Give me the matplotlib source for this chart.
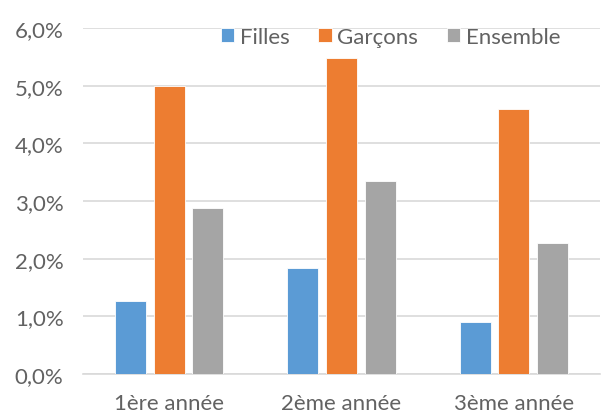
import numpy as np
import matplotlib
matplotlib.use('Agg')
import matplotlib.pyplot as plt
from matplotlib.ticker import FuncFormatter

categories = ['1ère année', '2ème année', '3ème année']
filles = [1.27, 1.84, 0.90]
garcons = [5.0, 5.48, 4.59]
ensemble = [2.88, 3.34, 2.27]
series_names = ['Filles', 'Garçons', 'Ensemble']
colors = ['#5B9BD5', '#ED7D31', '#A5A5A5']

plt.rcParams['font.family'] = ['Lato', 'DejaVu Sans']
text_col = '#626262'

fig = plt.figure(figsize=(6.05, 4.14), dpi=100)
ax = fig.add_axes([83 / 605, (414 - 375) / 414, (600 - 83) / 605, (375 - 29) / 414])

x = np.arange(len(categories))
w = 0.18
step = 0.225
for i, (vals, name, c) in enumerate(zip([filles, garcons, ensemble], series_names, colors)):
    ax.bar(x + (i - 1) * step, vals, w, color=c, label=name,
           edgecolor='white', linewidth=0.6, zorder=3)

ax.set_xlim(-0.5, 2.5)
ax.set_ylim(0, 6)
ax.set_yticks(np.arange(0, 7, 1))
ax.yaxis.set_major_formatter(FuncFormatter(lambda v, p: f'{v:.1f}%'.replace('.', ',')))
ax.set_xticks(x)
ax.set_xticklabels(categories)
ax.grid(axis='y', color='#D9D9D9', linewidth=1.2, zorder=0)
for s in ['top', 'right', 'left']:
    ax.spines[s].set_visible(False)
ax.spines['bottom'].set_color('#D9D9D9')
ax.spines['bottom'].set_linewidth(1.2)
ax.tick_params(axis='both', length=0, labelsize=16, colors=text_col)
ax.tick_params(axis='x', pad=14)
ax.tick_params(axis='y', pad=14)

leg = ax.legend(loc='upper center', bbox_to_anchor=(0.595, 1.06), ncol=3, frameon=False,
                fontsize=16, handlelength=0.6, handleheight=0.6, handletextpad=0.25,
                columnspacing=1.3)
for t in leg.get_texts():
    t.set_color(text_col)

fig.savefig('out.png', dpi=100)
